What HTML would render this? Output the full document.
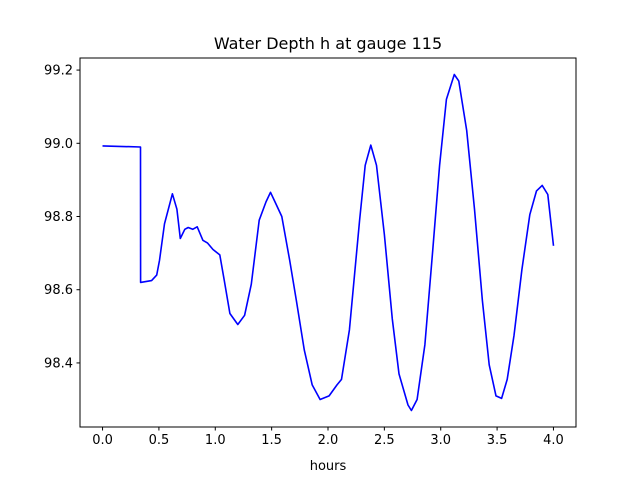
<!DOCTYPE html>
<html><head><meta charset="utf-8"><style>
body{margin:0;background:#fff;}
svg text{font-family:"DejaVu Sans","Liberation Sans",sans-serif;}
</style></head><body>
<svg id="chart" width="640" height="480" xmlns="http://www.w3.org/2000/svg">
<rect width="640" height="480" fill="#fff"/>
<text x="328" y="49" font-size="16" text-anchor="middle">Water Depth h at gauge 115</text>
<g id="plot"></g>
<rect x="80" y="58" width="496" height="369" fill="none" stroke="#000" stroke-width="1"/>
<text x="328" y="470" font-size="13" text-anchor="middle">hours</text>
</svg>
<script>
const hours=[0,0.337,0.338,0.435,0.48,0.505,0.55,0.62,0.66,0.69,0.73,0.76,0.8,0.84,0.89,0.93,0.98,1.04,1.08,1.13,1.2,1.26,1.32,1.39,1.45,1.49,1.53,1.59,1.66,1.72,1.79,1.86,1.93,2.01,2.08,2.12,2.19,2.28,2.33,2.38,2.43,2.5,2.57,2.63,2.71,2.74,2.79,2.86,2.93,2.99,3.05,3.12,3.16,3.23,3.3,3.37,3.43,3.49,3.54,3.59,3.65,3.72,3.79,3.85,3.9,3.95,4.0];
const depth=[98.993,98.99,98.62,98.625,98.64,98.68,98.78,98.862,98.82,98.74,98.765,98.77,98.765,98.772,98.735,98.728,98.71,98.695,98.625,98.535,98.505,98.53,98.615,98.79,98.84,98.866,98.84,98.8,98.68,98.57,98.435,98.34,98.3,98.31,98.34,98.355,98.49,98.79,98.94,98.995,98.94,98.75,98.52,98.37,98.285,98.27,98.3,98.45,98.71,98.94,99.12,99.188,99.17,99.035,98.82,98.57,98.395,98.31,98.303,98.355,98.475,98.655,98.805,98.87,98.885,98.86,98.72];
const xTicks=[0,0.5,1,1.5,2,2.5,3,3.5,4];
const xTickLabels=["0.0","0.5","1.0","1.5","2.0","2.5","3.0","3.5","4.0"];
const yTicks=[98.4,98.6,98.8,99.0,99.2];
const yTickLabels=["98.4","98.6","98.8","99.0","99.2"];
const L=80,R=576,T=58,B=427,X0=-0.2,X1=4.2,Y0=98.225,Y1=99.233;
const sx=v=>L+(v-X0)/(X1-X0)*(R-L);
const sy=v=>B-(v-Y0)/(Y1-Y0)*(B-T);
const NS="http://www.w3.org/2000/svg";
const g=document.getElementById('plot');
function mk(t,a){const e=document.createElementNS(NS,t);for(const k in a)e.setAttribute(k,a[k]);g.appendChild(e);return e;}
xTicks.forEach((v,i)=>{
  const l=mk('line',{x1:sx(v),x2:sx(v),y1:B,y2:B+3.5,stroke:'#000'});
  
  
  const t=mk('text',{x:sx(v),y:B+17,'font-size':13,'text-anchor':'middle'});
  t.textContent=xTickLabels[i];
  
  
});
yTicks.forEach((v,i)=>{
  const l=mk('line',{x1:L-3.5,x2:L,y1:sy(v),y2:sy(v),stroke:'#000'});
  
  
  const t=mk('text',{x:L-7,y:sy(v)+4.5,'font-size':13,'text-anchor':'end'});
  t.textContent=yTickLabels[i];
  
  
});
const pts=hours.map((h,i)=>sx(h).toFixed(1)+','+sy(depth[i]).toFixed(1)).join(' ');
const pl=mk('polyline',{points:pts,fill:'none',stroke:'#0000ff','stroke-width':1.6,'stroke-linejoin':'round'});


</script>
</body></html>
